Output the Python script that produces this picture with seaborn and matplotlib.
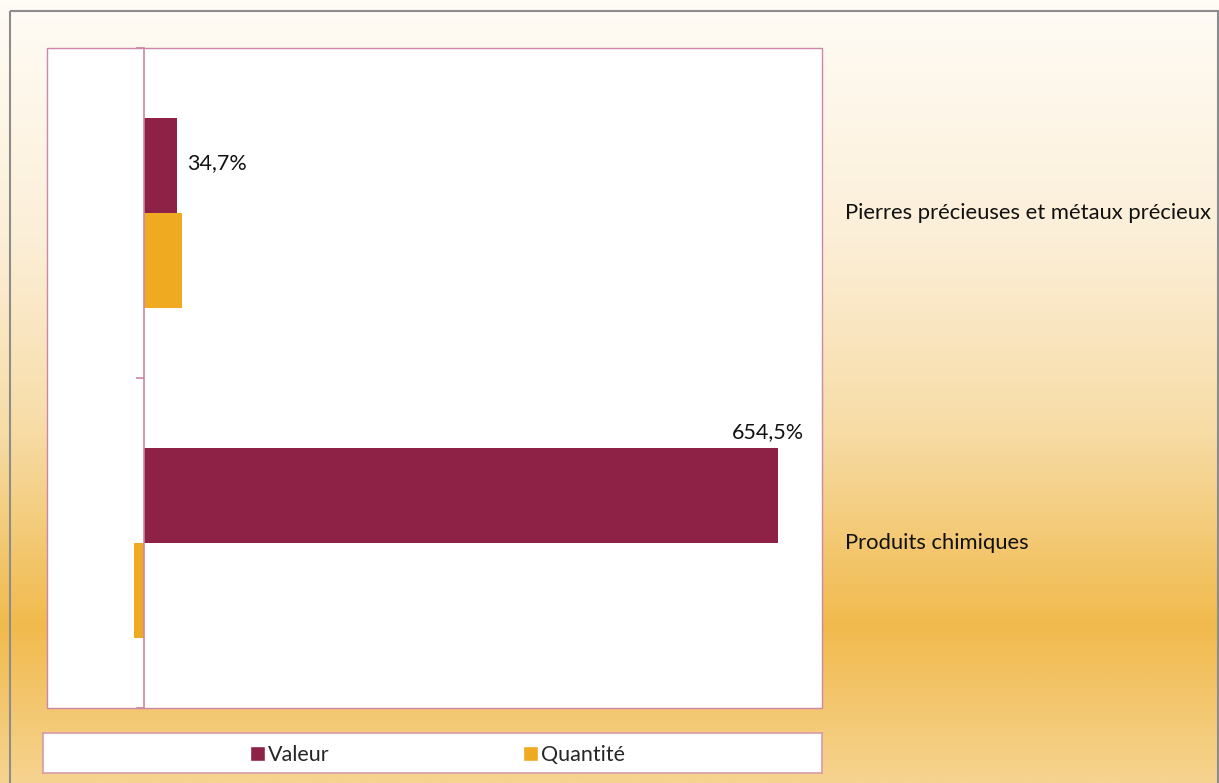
import numpy as np
import pandas as pd
import matplotlib
matplotlib.use("Agg")
import matplotlib.pyplot as plt
from matplotlib.colors import LinearSegmentedColormap
from matplotlib.patches import Rectangle
from matplotlib.transforms import blended_transform_factory
import seaborn as sns

categories = ["Pierres précieuses et métaux précieux", "Produits chimiques"]
series = ["Valeur", "Quantité"]
valeur = [34.7, 654.5]
quantite = [39.2, -10.5]
labels_valeur = ["34,7%", "654,5%"]

colors = {"Valeur": "#8E2246", "Quantité": "#EFAA22"}

df = pd.DataFrame({
    "categorie": categories * 2,
    "serie": [series[0]] * 2 + [series[1]] * 2,
    "valeur": valeur + quantite,
})

sns.set_theme(style="white")
plt.rcParams["font.family"] = ["Lato", "DejaVu Sans"]

W, H = 1219, 783
fig = plt.figure(figsize=(W / 100, H / 100), dpi=100)

# background gradient
bg = fig.add_axes([0, 0, 1, 1], zorder=-10)
stops = [(0.0, "#FFFCF6"), (0.30, "#FCEFD8"), (0.55, "#F7DCA6"), (0.80, "#F1BA4D"), (1.0, "#F6D38F")]
cmap = LinearSegmentedColormap.from_list("bgg", stops)
grad = np.linspace(0, 1, 400).reshape(-1, 1)
bg.imshow(grad, aspect="auto", cmap=cmap, extent=[0, W, H, 0])
bg.set_xlim(0, W)
bg.set_ylim(H, 0)
bg.axis("off")
bg.add_patch(Rectangle((9.5, 11), 1208.5, 800, fill=False, edgecolor="#8C8C8C", linewidth=1.5))

# plot area
x0, x1, y0, y1 = 47, 822, 48, 708
ax = fig.add_axes([x0 / W, 1 - y1 / H, (x1 - x0) / W, (y1 - y0) / H])
ax.set_facecolor("white")

sns.barplot(data=df, y="categorie", x="valeur", hue="serie", order=categories,
            hue_order=series, palette=colors, orient="h", width=0.576, gap=0,
            ax=ax, legend=False, saturation=1, linewidth=0)

ax.set_xlim(-100, 700)
ax.set_ylim(1.5, -0.5)
ax.set_xlabel("")
ax.set_ylabel("")
ax.set_xticks([])

border_c = "#CC86A6"
for s in ["top", "right", "bottom"]:
    ax.spines[s].set_visible(False)
ax.spines["left"].set_position(("data", 0))
ax.spines["left"].set_color(border_c)
ax.spines["left"].set_linewidth(1.2)
ax.set_yticks([-0.5, 0.5, 1.5])
ax.set_yticklabels([])
ax.tick_params(axis="y", direction="out", length=6, width=1.2, color=border_c, left=True)
ax.add_patch(Rectangle((0, 0), 1, 1, transform=ax.transAxes, fill=False,
                       edgecolor=border_c, linewidth=1.0, clip_on=False, zorder=5))

# data labels for Valeur
bars_v = ax.containers[0]
for bar, lab in zip(bars_v, labels_valeur):
    w = bar.get_width()
    yc = bar.get_y() + bar.get_height() / 2
    if w < 300:
        ax.annotate(lab, (w, yc), xytext=(7, 2), textcoords="offset points",
                    ha="left", va="center", fontsize=15.5, color="#111111")
    else:
        ax.annotate(lab, (w, bar.get_y()), xytext=(-7, 4), textcoords="offset points",
                    ha="center", va="bottom", fontsize=15.5, color="#111111")

# category labels on right
tr = blended_transform_factory(ax.transAxes, ax.transData)
for i, c in enumerate(categories):
    ax.text(1.0297, i, c, transform=tr, ha="left", va="center", fontsize=15.8, color="#111111")

# legend box
lax = fig.add_axes([43 / W, 1 - 773 / H, (822 - 43) / W, 40 / H])
lax.set_xlim(0, 779)
lax.set_ylim(0, 40)
lax.set_xticks([])
lax.set_yticks([])
lax.set_facecolor("white")
for s in lax.spines.values():
    s.set_color("#D89AA8")
    s.set_linewidth(1.2)
handles = [Rectangle((0, 0), 1, 1, facecolor=colors[s]) for s in series]
lax.legend(handles, series, loc="center", ncol=2, frameon=False, fontsize=15.5,
           handlelength=0.7, handleheight=0.7, handletextpad=0.12, columnspacing=9.0,
           bbox_to_anchor=(0.506, 0.45))

fig.savefig("out.png", dpi=100)
